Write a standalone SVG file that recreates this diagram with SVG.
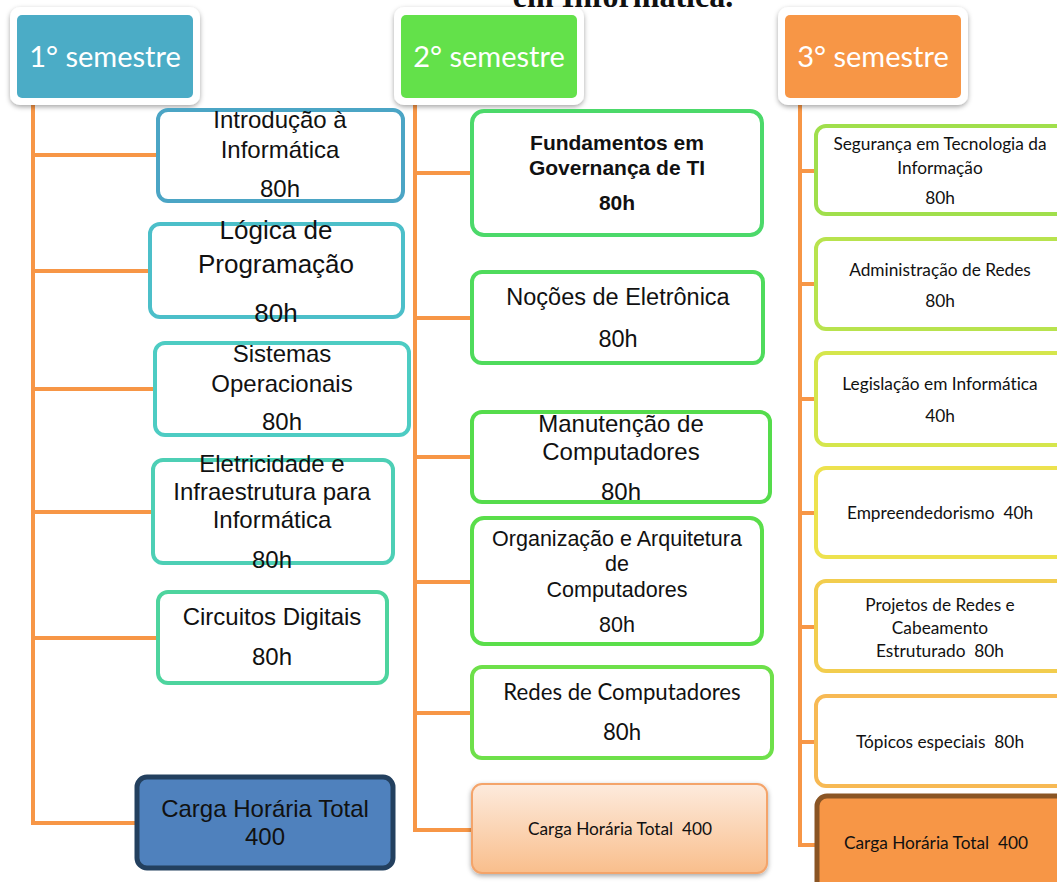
<svg xmlns="http://www.w3.org/2000/svg" width="1057" height="882" viewBox="0 0 1057 882">
<defs>
<filter id="sh" x="-10%" y="-10%" width="120%" height="130%">
<feDropShadow dx="0" dy="2" stdDeviation="2.5" flood-color="#000" flood-opacity="0.35"/>
</filter>
<linearGradient id="peach" x1="0" y1="0" x2="0" y2="1">
<stop offset="0" stop-color="#FDEBDD"/>
<stop offset="1" stop-color="#F9BE8C"/>
</linearGradient>
<style>
.conn{stroke:#F79646;stroke-width:4;fill:none;stroke-linecap:square}
.box{fill:#fff;stroke-width:4}
.a{font-family:"Liberation Sans",Arial,sans-serif;fill:#111;text-anchor:middle}
.c{font-family:Lato,"Open Sans",sans-serif;fill:#111;text-anchor:middle;white-space:pre;font-variant-ligatures:none}
.s3{font-size:17.3px}
.hd{font-family:Lato,"Open Sans",sans-serif;fill:#fff;text-anchor:middle;font-size:29px}
.outer{fill:#fff;filter:url(#sh)}
</style>
</defs>
<rect width="1057" height="882" fill="#fff"/>
<text x="623" y="7" font-family="'Liberation Serif',serif" font-weight="bold" font-size="32" text-anchor="middle" fill="#111">em Informática.</text>

<g id="connectors">
<path class="conn" d="M33 104 V823 M33 155 H158 M33 271 H150 M33 389 H155 M33 512 H153 M33 638 H158 M33 823 H137"/>
<path class="conn" d="M415 104 V830 M415 173 H472 M415 318 H472 M415 457 H472 M415 582 H472 M415 713 H472 M415 830 H472"/>
<path class="conn" d="M800 104 V845 M800 171 H815 M800 284 H815 M800 399 H815 M800 513 H815 M800 627 H815 M800 742 H815 M800 845 H817"/>
</g>

<g id="h1"><rect class="outer" x="10" y="7" width="190" height="98" rx="10"/><rect x="17" y="15" width="176" height="83" rx="5" fill="#4BACC6"/><text class="hd" x="105" y="67">1° semestre</text></g>
<g id="h2"><rect class="outer" x="394" y="7" width="190" height="98" rx="10"/><rect x="401" y="15" width="176" height="83" rx="5" fill="#63E14A"/><text class="hd" x="489" y="67">2° semestre</text></g>
<g id="h3"><rect class="outer" x="778" y="7" width="190" height="98" rx="10"/><rect x="785" y="15" width="176" height="83" rx="5" fill="#F79646"/><text class="hd" x="873" y="67">3° semestre</text></g>

<g id="c1n1"><rect class="box" x="158" y="110" width="245" height="91" rx="10" stroke="#4BA5C5"/><text class="a" font-size="24"><tspan x="280" y="128">Introdução à</tspan><tspan x="280" y="158">Informática</tspan><tspan x="280" y="197">80h</tspan></text></g>
<g id="c1n2"><rect class="box" x="150" y="224" width="253" height="93" rx="10" stroke="#4CBFC9"/><text class="a" font-size="26"><tspan x="276" y="239">Lógica de</tspan><tspan x="276" y="273">Programação</tspan><tspan x="276" y="322">80h</tspan></text></g>
<g id="c1n3"><rect class="box" x="155" y="343" width="254" height="92" rx="10" stroke="#4DCCC3"/><text class="a" font-size="24"><tspan x="282" y="362">Sistemas</tspan><tspan x="282" y="392">Operacionais</tspan><tspan x="282" y="430">80h</tspan></text></g>
<g id="c1n4"><rect class="box" x="153" y="460" width="240" height="103" rx="10" stroke="#4DCFB5"/><text class="a" font-size="24"><tspan x="272" y="472">Eletricidade e</tspan><tspan x="272" y="500">Infraestrutura para</tspan><tspan x="272" y="528">Informática</tspan><tspan x="272" y="568">80h</tspan></text></g>
<g id="c1n5"><rect class="box" x="158" y="592" width="229" height="91" rx="10" stroke="#4DD49E"/><text class="a" font-size="24"><tspan x="272" y="625">Circuitos Digitais</tspan><tspan x="272" y="665">80h</tspan></text></g>
<g id="c1tot"><rect x="137" y="777" width="256" height="91" rx="10" fill="#4F81BD" stroke="#23405F" stroke-width="5"/><text class="a" font-size="24"><tspan x="265" y="817">Carga Horária Total</tspan><tspan x="265" y="845">400</tspan></text></g>

<g id="c2n1"><rect class="box" x="472" y="111" width="290" height="124" rx="12" stroke="#4CD96A"/><text class="a" font-size="21" font-weight="bold"><tspan x="617" y="150">Fundamentos em</tspan><tspan x="617" y="175">Governança de TI</tspan><tspan x="617" y="210">80h</tspan></text></g>
<g id="c2n2"><rect class="box" x="472" y="272" width="291" height="91" rx="10" stroke="#4FDB5C"/><text class="a" font-size="23.5"><tspan x="618" y="305">Noções de Eletrônica</tspan><tspan x="618" y="347">80h</tspan></text></g>
<g id="c2n3"><rect class="box" x="472" y="412" width="298" height="90" rx="10" stroke="#55DC4C"/><text class="a" font-size="24"><tspan x="621" y="432">Manutenção de</tspan><tspan x="621" y="460">Computadores</tspan><tspan x="621" y="500">80h</tspan></text></g>
<g id="c2n4"><rect class="box" x="472" y="518" width="290" height="126" rx="12" stroke="#5ADE4A"/><text class="a" font-size="21.5"><tspan x="617" y="546">Organização e Arquitetura</tspan><tspan x="617" y="571">de</tspan><tspan x="617" y="597">Computadores</tspan><tspan x="617" y="632">80h</tspan></text></g>
<g id="c2n5"><rect class="box" x="472" y="667" width="300" height="91" rx="10" stroke="#6EE04A"/><text class="c" font-size="22.2"><tspan x="622" y="700">Redes de Computadores</tspan><tspan x="622" y="740">80h</tspan></text></g>
<g id="c2tot"><rect x="472" y="784" width="295" height="89" rx="10" fill="url(#peach)" stroke="#F4A46A" stroke-width="2" filter="url(#sh)"/><text class="c s3" xml:space="preserve"><tspan x="620" y="835">Carga Horária Total  400</tspan></text></g>

<g id="c3n1"><rect class="box" x="816" y="126" width="260" height="88" rx="10" stroke="#A0DF4C"/><text class="c s3"><tspan x="940" y="150">Segurança em Tecnologia da</tspan><tspan x="940" y="174">Informação</tspan><tspan x="940" y="204">80h</tspan></text></g>
<g id="c3n2"><rect class="box" x="816" y="239" width="260" height="90" rx="10" stroke="#B8E34E"/><text class="c s3"><tspan x="940" y="276">Administração de Redes</tspan><tspan x="940" y="307">80h</tspan></text></g>
<g id="c3n3"><rect class="box" x="816" y="353" width="260" height="92" rx="10" stroke="#D5E64C"/><text class="c s3"><tspan x="940" y="390">Legislação em Informática</tspan><tspan x="940" y="422">40h</tspan></text></g>
<g id="c3n4"><rect class="box" x="816" y="468" width="260" height="89" rx="10" stroke="#EDE24E"/><text class="c s3" xml:space="preserve"><tspan x="940" y="519">Empreendedorismo  40h</tspan></text></g>
<g id="c3n5"><rect class="box" x="816" y="581" width="260" height="90" rx="10" stroke="#F2CD4E"/><text class="c s3" xml:space="preserve"><tspan x="940" y="611">Projetos de Redes e</tspan><tspan x="940" y="634">Cabeamento</tspan><tspan x="940" y="657">Estruturado  80h</tspan></text></g>
<g id="c3n6"><rect class="box" x="816" y="696" width="260" height="90" rx="10" stroke="#F7B954"/><text class="c s3" xml:space="preserve"><tspan x="940" y="748">Tópicos especiais  80h</tspan></text></g>
<g id="c3tot"><rect x="817" y="796" width="260" height="100" rx="10" fill="#F79646" stroke="#8A5524" stroke-width="5"/><text class="c s3" xml:space="preserve"><tspan x="936" y="849">Carga Horária Total  400</tspan></text></g>
</svg>
